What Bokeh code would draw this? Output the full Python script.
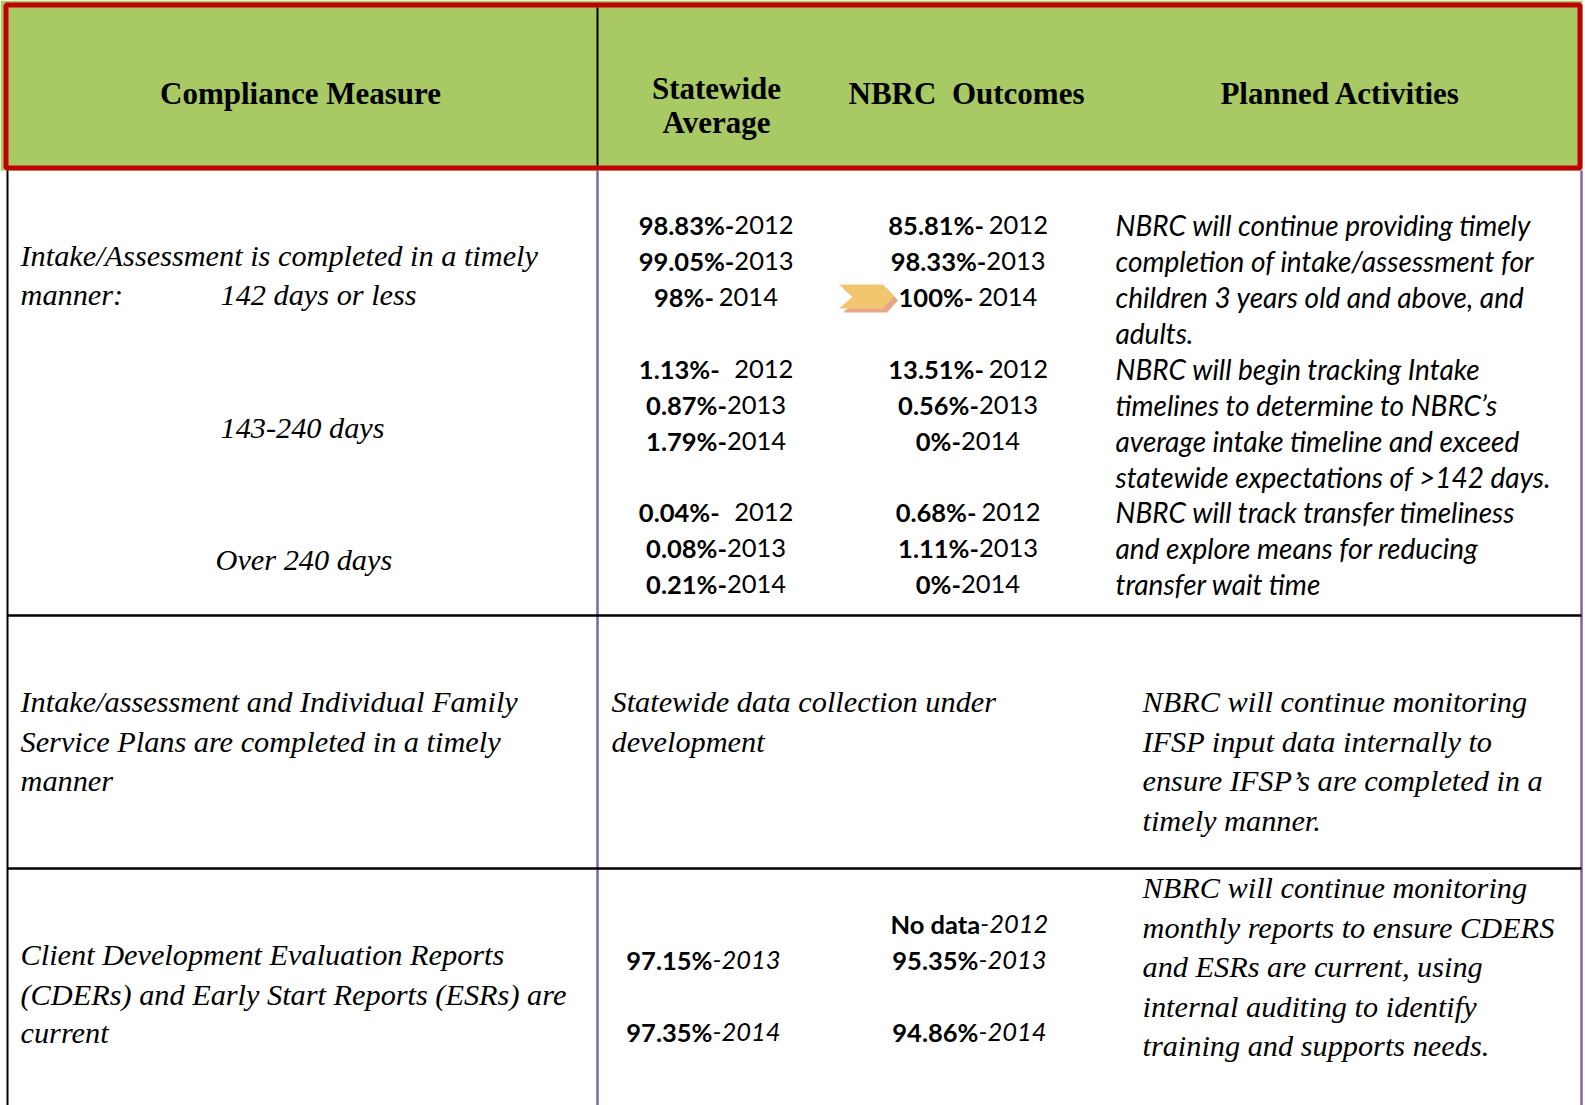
from bokeh.plotting import figure
from bokeh.models import Range1d, ColumnDataSource
from bokeh.core.properties import value
from bokeh.embed import file_html
from bokeh.resources import INLINE

# ---------------- data ----------------
header_labels = ["Compliance Measure", "Statewide", "Average", "NBRC\u00a0 Outcomes", "Planned Activities"]

measure_intro = ["Intake/Assessment is completed in a timely", "manner:"]
sub_measures = ["142 days or less", "143-240 days", "Over 240 days"]

years = ["2012", "2013", "2014"]
statewide_pct = [["98.83%", "99.05%", "98%"],
                 ["1.13%", "0.87%", "1.79%"],
                 ["0.04%", "0.08%", "0.21%"]]
statewide_gap = [[0, 0, 1], [3, 0, 0], [3, 0, 0]]
nbrc_pct = [["85.81%", "98.33%", "100%"],
            ["13.51%", "0.56%", "0%"],
            ["0.68%", "1.11%", "0%"]]
nbrc_gap = [[1, 0, 1], [1, 0, 0], [1, 0, 0]]

planned_1 = ["NBRC will continue providing timely",
             "completion of intake/assessment for",
             "children 3 years old and above, and",
             "adults.",
             "NBRC will begin tracking Intake",
             "timelines to determine to NBRC\u2019s",
             "average intake timeline and exceed",
             "statewide expectations of >142 days.",
             "NBRC will track transfer timeliness",
             "and explore means for reducing",
             "transfer wait time"]

measure_2 = ["Intake/assessment and Individual Family",
             "Service Plans are completed in a timely",
             "manner"]
statewide_2 = ["Statewide data collection under", "development"]
planned_2 = ["NBRC will continue monitoring",
             "IFSP input data internally to",
             "ensure IFSP\u2019s are completed in a",
             "timely manner."]

measure_3 = ["Client Development Evaluation Reports",
             "(CDERs) and Early Start Reports (ESRs) are",
             "current"]
cders_sw_pct = ["97.15%", "97.35%"]
cders_sw_year = ["2013", "2014"]
cders_nbrc_pct = ["No data", "95.35%", "94.86%"]
cders_nbrc_year = ["2012", "2013", "2014"]
planned_3 = ["NBRC will continue monitoring",
             "monthly reports to ensure CDERS",
             "and ESRs are current, using",
             "internal auditing to identify",
             "training and supports needs."]

# ---------------- layout / style ----------------
GREEN = "#A8C963"
RED = "#C00000"
PURPLE = "#8064A2"
SERIF = "Liberation Serif"
SANS = "Lato"
SERIF_SZ = 30.3
HEAD_SZ = 31
SANS_SZ = 25.5
PLAN_SZ = 28

p = figure(width=1585, height=1105, x_range=Range1d(0, 1585), y_range=Range1d(1105, 0),
           output_backend="svg", toolbar_location=None, min_border=0,
           x_axis_location=None, y_axis_location=None)
p.grid.visible = False
p.outline_line_color = None
p.background_fill_color = "white"
p.border_fill_color = "white"

# header band
p.quad(left=[0], right=[1582], top=[0], bottom=[170], fill_color=GREEN, line_color=None)
p.quad(left=[5.5], right=[1579.5], top=[4.5], bottom=[167.5], fill_color=None,
       line_color=RED, line_width=5)
p.segment(x0=[597], y0=[7], x1=[597], y1=[165], line_color="black", line_width=2)

# grid lines
p.segment(x0=[7], y0=[170], x1=[7], y1=[1105], line_color="black", line_width=2)
p.segment(x0=[597, 1581], y0=[170, 170], x1=[597, 1581], y1=[1105, 1105],
          line_color=PURPLE, line_width=2.5)
p.segment(x0=[7, 7], y0=[615, 868], x1=[1581, 1581], y1=[615, 868],
          line_color="black", line_width=2.5)


def add_text(xs, ys, texts, font, size, style="normal", align="left"):
    src = ColumnDataSource(dict(x=xs, y=ys, t=texts))
    p.text("x", "y", "t", source=src, text_font=value(font),
           text_font_size=value(f"{size}px"), text_font_style=style,
           text_align=align, text_baseline="middle", text_color="black")


# approximate Lato advance widths (em) for centring mixed-weight lines
LATO_W = {"%": 0.80, ".": 0.25, "-": 0.35, " ": 0.19, "N": 0.75, "o": 0.57,
          "d": 0.58, "a": 0.53, "t": 0.36}


def est_w(s, size):
    return sum(LATO_W.get(c, 0.58) for c in s) * size


def mixed_lines(center, ys, bold_parts, reg_parts, gaps, reg_style):
    bx, rx = [], []
    for b, r, g in zip(bold_parts, reg_parts, gaps):
        wb = est_w(b, SANS_SZ)
        wr = est_w(r, SANS_SZ) + g * 0.19 * SANS_SZ
        start = center - (wb + wr) / 2
        bx.append(start + wb)
        rx.append(start + wb + g * 0.19 * SANS_SZ)
    add_text(bx, ys, bold_parts, SANS, SANS_SZ, "bold", "right")
    add_text(rx, ys, reg_parts, SANS, SANS_SZ, reg_style, "left")


# header texts
add_text([300, 716, 716, 966, 1340], [93, 88, 122, 93, 93], header_labels,
         SERIF, HEAD_SZ, "bold", "center")

# row 1
add_text([20, 20], [255, 294], measure_intro, SERIF, SERIF_SZ, "italic")
add_text([220, 220, 215], [294, 427, 559], sub_measures, SERIF, SERIF_SZ, "italic")

row_ys = [[224, 260, 296], [368, 404, 440], [511, 547, 583]]
for k in range(3):
    mixed_lines(716, row_ys[k], [v + "-" for v in statewide_pct[k]], years,
                statewide_gap[k], "normal")
    mixed_lines(968, row_ys[k], [v + "-" for v in nbrc_pct[k]], years,
                nbrc_gap[k], "normal")

plan1_ys = [224, 260, 296, 332, 368, 404, 440, 476, 511, 547, 583]
add_text([1115] * len(planned_1), plan1_ys, planned_1, SANS, PLAN_SZ, "italic")

# chevron marker next to the NBRC 2014 intake result
chev = [(-0.5, -0.5), (0.3, -0.5), (0.5, 0.0), (0.3, 0.5), (-0.5, 0.5), (-0.25, 0.0)]
cx, cy, cw, ch = 866, 296, 55, 24
p.patch([cx + 4 + u * cw for u, v in chev], [cy + 4 + v * ch for u, v in chev],
        fill_color="#E6A886", line_color=None)
p.patch([cx + u * cw for u, v in chev], [cy + v * ch for u, v in chev],
        fill_color="#F2C66E", line_color=None)

# row 2
add_text([20] * 3, [701, 741, 780], measure_2, SERIF, SERIF_SZ, "italic")
add_text([611] * 2, [701, 741], statewide_2, SERIF, SERIF_SZ, "italic")
add_text([1142] * 4, [701, 741, 780, 820], planned_2, SERIF, SERIF_SZ, "italic")

# row 3
add_text([20] * 3, [954, 994, 1032], measure_3, SERIF, SERIF_SZ, "italic")
mixed_lines(703, [959, 1031], cders_sw_pct, ["-" + y for y in cders_sw_year],
            [0, 0], "italic")
mixed_lines(969, [923, 959, 1031], cders_nbrc_pct, ["-" + y for y in cders_nbrc_year],
            [0, 0, 0], "italic")
add_text([1142] * 5, [887, 927, 966, 1006, 1045], planned_3, SERIF, SERIF_SZ, "italic")

open("out.html", "w").write(file_html(p, INLINE))
